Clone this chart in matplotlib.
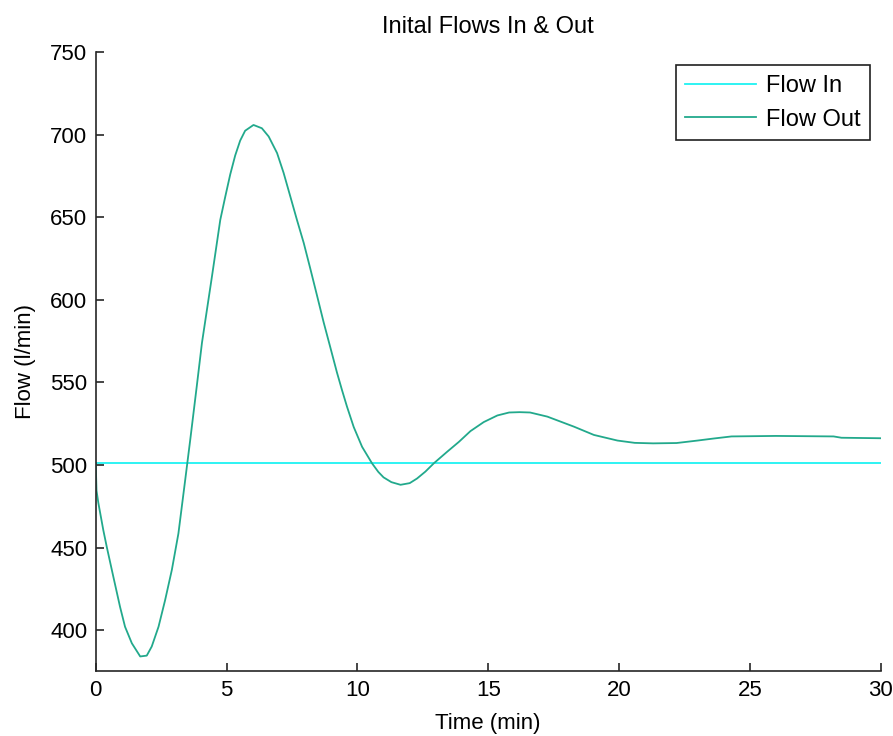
import matplotlib
matplotlib.use('agg')
import matplotlib.pyplot as plt

plt.rcParams['font.family'] = ['Liberation Sans', 'DejaVu Sans']

# time (min) and flows (l/min)
time = [0, 0.03, 0.1, 0.29, 0.42, 0.67, 0.93, 1.12, 1.38, 1.7, 1.95, 2.14,
        2.4, 2.65, 2.91, 3.16, 3.42, 3.61, 3.86, 4.06, 4.25, 4.44, 4.57,
        4.76, 4.95, 5.14, 5.33, 5.52, 5.71, 6.03, 6.35, 6.61, 6.93, 7.18,
        7.44, 7.69, 7.95, 8.2, 8.46, 8.71, 8.97, 9.22, 9.41, 9.6, 9.86,
        10.18, 10.56, 10.8, 11.0, 11.3, 11.65, 12.0, 12.28, 12.6, 12.92,
        13.43, 13.88, 14.32, 14.83, 15.35, 15.8, 16.2, 16.6, 17.26, 18.28,
        19.04, 19.94, 20.6, 21.3, 22.2, 23.0, 23.6, 24.3, 26.0, 28.2, 28.5,
        30.0]
flow_out = [501, 484.5, 477, 460.5, 450.5, 432.5, 414, 402, 392, 384, 384.5, 390,
            402, 418, 436.5, 458.5, 491, 515, 547.5, 574, 594, 614, 628,
            648.5, 662.5, 676, 687.5, 696.5, 702.5, 706, 704, 699, 689, 677,
            662.5, 648.5, 634.5, 619, 602.5, 586.5, 571, 556, 545.5, 535.5, 523,
            511, 501, 495.8, 492.5, 489.6, 488, 489, 491.8, 496, 501,
            508, 514, 520.5, 526, 530, 531.8, 532, 531.8, 529.3, 523.2,
            518.2, 514.8, 513.4, 513.1, 513.3, 514.8, 516, 517.3, 517.6, 517.3,
            516.5, 516.2]
flow_in_level = 501

fig = plt.figure(figsize=(8.93, 7.36), dpi=100)
ax = fig.add_axes([0.1072, 0.0879, 0.879, 0.841])

ax.plot([time[0], time[-1]], [flow_in_level, flow_in_level], color='#1ef2f2',
        lw=1.3, label='Flow In')
ax.plot(time, flow_out, color='#22a98c', lw=1.3, label='Flow Out')

ax.set_xlim(0, 30)
ax.set_ylim(375, 750)
ax.set_xticks(range(0, 31, 5))
ax.set_yticks(range(400, 751, 50))

# matlab look: box off, ticks pointing in
ax.spines['top'].set_visible(False)
ax.spines['right'].set_visible(False)
for s in ['left', 'bottom']:
    ax.spines[s].set_color('#262626')
    ax.spines[s].set_linewidth(1.2)
ax.tick_params(direction='in', length=6, width=1.2, color='#262626',
               labelsize=16, pad=6)

ax.set_title('Inital Flows In & Out', fontsize=17, pad=14)
ax.set_xlabel('Time (min)', fontsize=16, labelpad=9)
ax.set_ylabel('Flow (l/min)', fontsize=16, labelpad=10)

leg = ax.legend(loc='upper right', bbox_to_anchor=(0.987, 0.979), fontsize=17,
                fancybox=False, framealpha=1, edgecolor='#202020',
                handlelength=3.0, borderpad=0.4, labelspacing=0.5,
                handletextpad=0.45, borderaxespad=0)
leg.get_frame().set_linewidth(1.2)

fig.savefig('out.png', dpi=100)
